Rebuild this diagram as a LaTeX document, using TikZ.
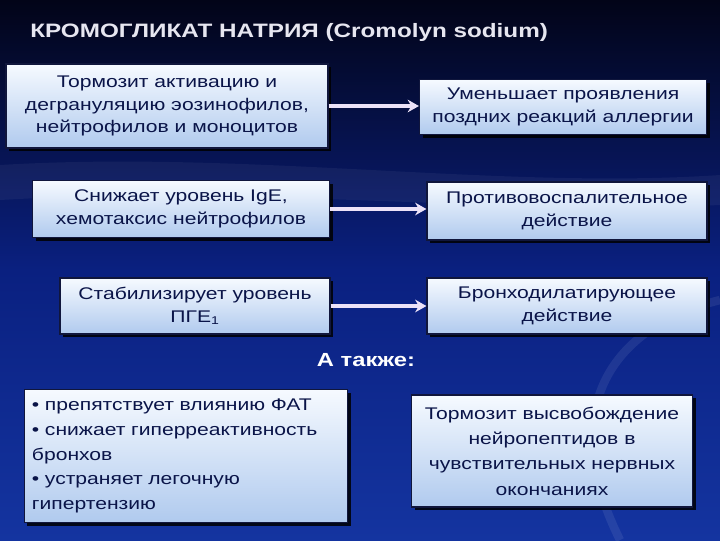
\documentclass[tikz,border=0pt]{standalone}
\usepackage{fontspec}
\setmainfont[FakeStretch=1.25]{Liberation Sans}
\usetikzlibrary{positioning, arrows.meta, shadows}
\definecolor{bgTop}{RGB}{2,4,24}
\definecolor{bgMid}{RGB}{10,32,128}
\definecolor{bgBot}{RGB}{20,52,160}
\definecolor{boxTop}{RGB}{246,250,255}
\definecolor{boxBot}{RGB}{176,202,238}
\definecolor{boxLine}{RGB}{16,22,60}
\definecolor{txtBlue}{RGB}{10,20,72}
\definecolor{arrW}{RGB}{236,226,248}
\definecolor{titleW}{RGB}{230,230,240}

\tikzset{
  effbox/.style={draw=boxLine, line width=0.8pt, top color=boxTop, bottom color=boxBot,
    drop shadow={shadow xshift=2.2pt, shadow yshift=-2.2pt, fill=black, opacity=0.85},
    text=txtBlue, align=center, inner sep=2pt, font=\fontsize{12}{16}\selectfont},
  effarrow/.style={draw=arrW, line width=3pt, -{Stealth[length=8pt, width=9pt]}}
}

\begin{document}
\begin{tikzpicture}[x=0.025cm, y=-0.025cm]
    % Background
    \shade[top color=bgTop, bottom color=bgBot, middle color=bgMid] (0,0) rectangle (720,540);
    \useasboundingbox (0,0) rectangle (720,540);
    \fill[white, opacity=0.05] (0,165) .. controls (250,150) and (500,190) .. (720,175) -- (720,205) .. controls (500,215) and (250,185) .. (0,200) -- cycle;
    \draw[white, opacity=0.08, line width=6pt] (720,300) .. controls (600,330) and (560,420) .. (620,540);

    % Title
    \node[anchor=west, inner sep=0pt, text=titleW, font=\bfseries\fontsize{13.8}{16}\selectfont] (title) at (30,32) {КРОМОГЛИКАТ НАТРИЯ (Cromolyn sodium)};

    % Left column: mechanisms
    \node[effbox, minimum width=8.05cm, minimum height=2.1cm] (inhib) at (167,106) {Тормозит активацию и\\дегрануляцию эозинофилов,\\нейтрофилов и моноцитов};
    \node[effbox, minimum width=7.425cm, minimum height=1.425cm] (ige) at (181,209) {Снижает уровень IgE,\\хемотаксис нейтрофилов};
    \node[effbox, minimum width=6.75cm, minimum height=1.4cm] (pge) at (195,306) {Стабилизирует уровень\\ПГЕ\textsubscript{1}};

    % Right column: effects
    \node[effbox, minimum width=7.175cm, minimum height=1.375cm] (late) at (563,107) {Уменьшает проявления\\поздних реакций аллергии};
    \node[effbox, minimum width=7cm, minimum height=1.45cm] (antiinfl) at (567,211) {Противовоспалительное\\действие};
    \node[effbox, minimum width=7cm, minimum height=1.4cm] (broncho) at (567,306) {Бронходилатирующее\\действие};

    % Arrows
    \draw[effarrow] (inhib.east) -- (inhib.east -| late.west);
    \draw[effarrow] (ige.east) -- (ige.east -| antiinfl.west);
    \draw[effarrow] (pge.east) -- (pge.east -| broncho.west);

    % Also
    \node[text=white, font=\bfseries\fontsize{13.5}{15}\selectfont] (also) at (366,360) {А также:};
    \node[effbox, align=left, text width=7.7cm, inner xsep=0.19cm, minimum height=3.325cm, font=\fontsize{12}{17.7}\selectfont] (list) at (186,456) {• препятствует влиянию ФАТ\\• снижает гиперреактивность\\бронхов\\• устраняет легочную\\гипертензию};
    \node[effbox, minimum width=7.025cm, minimum height=2.8cm, font=\fontsize{12}{18}\selectfont] (neuro) at (552,451) {Тормозит высвобождение\\нейропептидов в\\чувствительных нервных\\окончаниях};
\end{tikzpicture}
\end{document}
